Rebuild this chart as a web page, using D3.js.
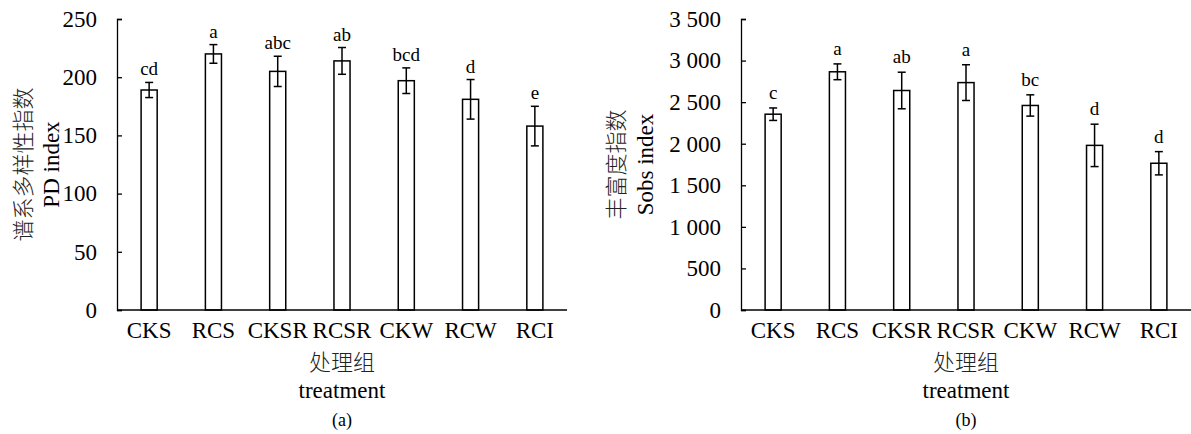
<!DOCTYPE html>
<html>
<head>
<meta charset="utf-8">
<script src="https://cdn.jsdelivr.net/npm/d3@7"></script>
<style>
  body { margin: 0; background: #fff; }
  svg { display: block; }
  .lat { font-family: "Liberation Serif", "Times New Roman", serif; fill: #000; }
  .cjk { font-family: "Noto Sans CJK SC", sans-serif; fill: #222; font-weight: 300; }
</style>
</head>
<body>
<svg id="chart" width="1191" height="434"></svg>
<script>
// ---- data ----
const treatments = ["CKS", "RCS", "CKSR", "RCSR", "CKW", "RCW", "RCI"]

const pdValues = [189, 220, 205, 214, 197, 181, 158]
const pdErrors = [6.5, 8, 13, 11.5, 11, 17, 17]
const pdLetters = ["cd", "a", "abc", "ab", "bcd", "d", "e"]
const pdTicks = [0, 50, 100, 150, 200, 250]

const sobsValues = [2355, 2865, 2640, 2735, 2460, 1980, 1765]
const sobsErrors = [75, 95, 220, 215, 128, 255, 140]
const sobsLetters = ["c", "a", "ab", "a", "bc", "d", "d"]
const sobsTicks = [0, 500, 1000, 1500, 2000, 2500, 3000, 3500]

const svg = d3.select("#chart")

// thousands separated by a space, as in the figure
const fmtSpace = d => d3.format(",")(d).replace(/,/g, " ")

function drawPanel(opt) {
    const top = 19, bottom = 310
    const x = d3.scaleBand()
        .domain(treatments)
        .range([opt.left, opt.left + 450])
        .paddingInner(0.75)
        .paddingOuter(0.375)

    const y = d3.scaleLinear()
        .domain([0, opt.max])
        .range([bottom, top])

    const g = svg.append("g")

    // y axis, ticks pointing inward
    const yAxis = d3.axisLeft(y)
        .tickValues(opt.ticks)
        .tickSize(-5)
        .tickPadding(20)
        .tickFormat(opt.fmt)

    const ya = g.append("g")
        .attr("transform", `translate(${opt.left},0)`)
        .call(yAxis)
    ya.attr("font-family", null).attr("font-size", null)
    ya.select(".domain").attr("stroke", "#000").attr("stroke-width", 1.3)
    ya.selectAll(".tick line").attr("stroke", "#000").attr("stroke-width", 1.3)
    ya.selectAll(".tick text")
        .attr("class", "lat")
        .attr("font-size", "23px")
        .attr("fill", "#000")

    // bars
    g.selectAll("rect.bar")
        .data(opt.values)
        .enter()
        .append("rect")
            .attr("class", "bar")
            .attr("x", (d, i) => x(treatments[i]))
            .attr("y", d => y(d))
            .attr("width", x.bandwidth())
            .attr("height", d => y(0) - y(d))
            .attr("fill", "#fff")
            .attr("stroke", "#000")
            .attr("stroke-width", 1.5)

    // x axis line (drawn over bar bottoms)
    g.append("line")
        .attr("x1", opt.left).attr("x2", opt.left + 450)
        .attr("y1", y(0)).attr("y2", y(0))
        .attr("stroke", "#000")
        .attr("stroke-width", 1.3)

    // error bars
    const cap = 4
    const eb = g.selectAll("g.err")
        .data(opt.values)
        .enter()
        .append("g")
            .attr("class", "err")
            .attr("stroke", "#000")
            .attr("stroke-width", 1.5)
    eb.append("line")
        .attr("x1", (d, i) => x(treatments[i]) + x.bandwidth() / 2)
        .attr("x2", (d, i) => x(treatments[i]) + x.bandwidth() / 2)
        .attr("y1", (d, i) => y(d + opt.errors[i]))
        .attr("y2", (d, i) => y(d - opt.errors[i]))
    eb.append("line")
        .attr("x1", (d, i) => x(treatments[i]) + x.bandwidth() / 2 - cap)
        .attr("x2", (d, i) => x(treatments[i]) + x.bandwidth() / 2 + cap)
        .attr("y1", (d, i) => y(d + opt.errors[i]))
        .attr("y2", (d, i) => y(d + opt.errors[i]))
    eb.append("line")
        .attr("x1", (d, i) => x(treatments[i]) + x.bandwidth() / 2 - cap)
        .attr("x2", (d, i) => x(treatments[i]) + x.bandwidth() / 2 + cap)
        .attr("y1", (d, i) => y(d - opt.errors[i]))
        .attr("y2", (d, i) => y(d - opt.errors[i]))

    // significance letters
    g.selectAll("text.sig")
        .data(opt.values)
        .enter()
        .append("text")
            .attr("class", "lat")
            .attr("x", (d, i) => x(treatments[i]) + x.bandwidth() / 2)
            .attr("y", (d, i) => y(d + opt.errors[i]) - opt.gap)
            .attr("text-anchor", "middle")
            .attr("font-size", "19px")
            .text((d, i) => opt.letters[i])

    // category labels
    g.selectAll("text.cat")
        .data(treatments)
        .enter()
        .append("text")
            .attr("class", "lat")
            .attr("x", d => x(d) + x.bandwidth() / 2)
            .attr("y", 338)
            .attr("text-anchor", "middle")
            .attr("font-size", "23px")
            .text(d => d)

    const cx = opt.left + 225
    g.append("text").attr("class", "cjk")
        .attr("x", cx).attr("y", 370)
        .attr("text-anchor", "middle").attr("font-size", "22px")
        .text("处理组")
    g.append("text").attr("class", "lat")
        .attr("x", cx).attr("y", 398)
        .attr("text-anchor", "middle").attr("font-size", "23px")
        .text("treatment")
    g.append("text").attr("class", "lat")
        .attr("x", cx).attr("y", 426)
        .attr("text-anchor", "middle").attr("font-size", "18px")
        .text(opt.tag)

    // y titles
    const cy = (top + bottom) / 2
    g.append("text").attr("class", "cjk")
        .attr("transform", `translate(${opt.titleX1},${cy}) rotate(-90)`)
        .attr("text-anchor", "middle").attr("font-size", "22px")
        .text(opt.titleCn)
    g.append("text").attr("class", "lat")
        .attr("transform", `translate(${opt.titleX2},${cy}) rotate(-90)`)
        .attr("text-anchor", "middle").attr("font-size", "23px")
        .text(opt.titleEn)
}

drawPanel({
    left: 117, max: 250, ticks: pdTicks, fmt: d3.format("d"),
    values: pdValues, errors: pdErrors, letters: pdLetters, gap: 7,
    tag: "(a)", titleCn: "谱系多样性指数", titleEn: "PD index",
    titleX1: 31, titleX2: 59
})

drawPanel({
    left: 741, max: 3500, ticks: sobsTicks, fmt: fmtSpace,
    values: sobsValues, errors: sobsErrors, letters: sobsLetters, gap: 9,
    tag: "(b)", titleCn: "丰富度指数", titleEn: "Sobs index",
    titleX1: 624, titleX2: 653
})
</script>
</body>
</html>
